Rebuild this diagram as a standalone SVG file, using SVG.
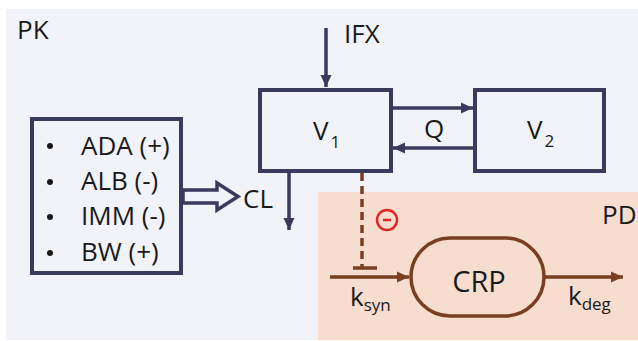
<svg xmlns="http://www.w3.org/2000/svg" width="638" height="341" viewBox="0 0 638 341">
<style>
text{font-family:"Open Sans","Liberation Sans",sans-serif;fill:#1a1a1a}
.lbl{font-size:26px}
.sub{font-size:17px}
.box{fill:none;stroke:#3a3a5c;stroke-width:4}
.nav{stroke:#3a3a5c;stroke-width:3.5;fill:none}
.brn{stroke:#7a3f22;stroke-width:3.5;fill:none}
</style>
<defs>
<marker id="an" markerUnits="userSpaceOnUse" markerWidth="14" markerHeight="14" viewBox="0 0 14 14" refX="13" refY="7" orient="auto">
<path d="M1,1.5 L13,7 L1,12.5 Z" fill="#3a3a5c"/>
</marker>
<marker id="ab" markerUnits="userSpaceOnUse" markerWidth="14" markerHeight="14" viewBox="0 0 14 14" refX="13" refY="7" orient="auto">
<path d="M1,1.5 L13,7 L1,12.5 Z" fill="#7a3f22"/>
</marker>
</defs>
<rect x="0" y="0" width="638" height="341" fill="#ffffff"/>
<rect id="pk-region" x="6" y="9" width="632" height="331" fill="#f2f3f8"/>
<rect id="pd-region" x="318" y="192" width="320" height="148" fill="#f6ddcd"/>
<text class="lbl" x="17" y="39">PK</text>
<text class="lbl" x="602" y="224">PD</text>

<g id="connectors">
<line class="nav" x1="326" y1="28" x2="326" y2="87" marker-end="url(#an)"/>
<line class="nav" x1="393" y1="108" x2="473" y2="108" marker-end="url(#an)"/>
<line class="nav" x1="473" y1="148" x2="393" y2="148" marker-end="url(#an)"/>
<line class="nav" x1="289" y1="173" x2="289" y2="230" marker-end="url(#an)"/>
<polygon points="183,190 217,190 217,183 238,196.5 217,210 217,203 183,203" fill="#f2f3f8" stroke="#3a3a5c" stroke-width="3.5" stroke-linejoin="miter"/>
<line class="brn" x1="362" y1="173" x2="362" y2="267" stroke-dasharray="8 5"/>
<line class="brn" x1="353" y1="268" x2="377" y2="268"/>
<line class="brn" x1="330" y1="277" x2="409" y2="277" marker-end="url(#ab)"/>
<line class="brn" x1="545" y1="277" x2="623" y2="277" marker-end="url(#ab)"/>
</g>

<g id="ifx"><text class="lbl" x="344" y="43">IFX</text></g>
<g id="q"><text class="lbl" x="434" y="138" text-anchor="middle">Q</text></g>
<g id="cl"><text class="lbl" x="243" y="208">CL</text></g>

<g id="v1">
<rect class="box" x="260" y="90" width="131" height="81"/>
<text class="lbl" x="313" y="140">V<tspan class="sub" dx="2" dy="8">1</tspan></text>
</g>
<g id="v2">
<rect class="box" x="475" y="90" width="129" height="81"/>
<text class="lbl" x="527" y="139">V<tspan class="sub" dx="2" dy="8">2</tspan></text>
</g>

<g id="covariates">
<rect class="box" x="32" y="119" width="149" height="154" stroke-width="3.5"/>
<circle cx="50" cy="146" r="3" fill="#1a1a1a"/>
<circle cx="50" cy="182" r="3" fill="#1a1a1a"/>
<circle cx="50" cy="217" r="3" fill="#1a1a1a"/>
<circle cx="50" cy="253" r="3" fill="#1a1a1a"/>
<text class="lbl" x="81" y="155">ADA (+)</text>
<text class="lbl" x="81" y="190">ALB (-)</text>
<text class="lbl" x="81" y="225">IMM (-)</text>
<text class="lbl" x="81" y="261">BW (+)</text>
</g>

<g id="inhibit">
<circle cx="387" cy="220" r="10" fill="none" stroke="#e0262a" stroke-width="2.5"/>
<line x1="383" y1="220" x2="391" y2="220" stroke="#e0262a" stroke-width="2.5"/>
</g>

<g id="crp">
<rect x="411" y="238" width="133" height="78" rx="39" ry="39" fill="none" stroke="#7a3f22" stroke-width="3.5"/>
<text x="479" y="292" font-size="29" text-anchor="middle">CRP</text>
</g>

<g id="ksyn"><text class="lbl" x="350" y="306">k<tspan class="sub" dy="5">syn</tspan></text></g>
<g id="kdeg"><text class="lbl" x="568" y="305">k<tspan class="sub" dy="5">deg</tspan></text></g>
</svg>
